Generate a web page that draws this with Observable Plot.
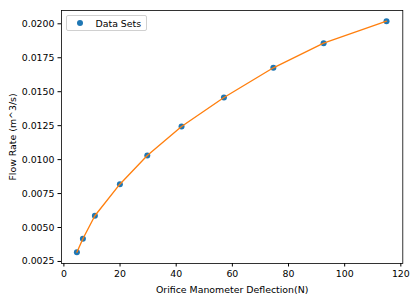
<!DOCTYPE html>
<html>
<head>
<meta charset="utf-8">
<script src="https://cdn.jsdelivr.net/npm/d3@7"></script>
<script src="https://cdn.jsdelivr.net/npm/@observablehq/plot@0.6"></script>
<style>
  html, body { margin: 0; padding: 0; background: #fff; }
  #wrap { position: relative; width: 415px; height: 300px; font-family: "DejaVu Sans", sans-serif; }
  #legend { position: absolute; left: 65.5px; top: 15px; width: 81px; height: 16px; box-sizing: border-box;
    border: 1px solid #d0d0d0; border-radius: 2px; background: rgba(255,255,255,0.8); font-size: 9.4px; }
  #legend .dot { position: absolute; left: 10px; top: 4px; width: 6px; height: 6px; border-radius: 50%; background: #1f77b4; }
  #legend .lab { position: absolute; left: 29px; top: 1.5px; color: #000; white-space: nowrap; }
</style>
</head>
<body>
<div id="wrap"></div>
<script>
const deflection = [4.63, 6.77, 11.04, 19.94, 29.7, 41.9, 57.0, 74.6, 92.5, 114.9];
const flowRate = [0.003185, 0.004171, 0.005865, 0.008191, 0.010304, 0.012439, 0.014574, 0.016761, 0.018572, 0.020191];
const xTicks = [0, 20, 40, 60, 80, 100, 120];
const yTicks = [0.0025, 0.0050, 0.0075, 0.0100, 0.0125, 0.0150, 0.0175, 0.0200];
const seriesName = "Data Sets";
const xLabel = "Orifice Manometer Deflection(N)";
const yLabel = "Flow Rate (m^3/s)";

const data = deflection.map((d, i) => ({x: d, y: flowRate[i]}));

const chart = Plot.plot({
  width: 415,
  height: 300,
  marginLeft: 61,
  marginRight: 12.7,
  marginTop: 10,
  marginBottom: 37,
  style: {fontFamily: "'DejaVu Sans', sans-serif", fontSize: "9.4px", color: "#000", background: "#fff"},
  x: {domain: [-0.85, 120.7], ticks: xTicks, tickFormat: d3.format("d"), tickSize: 3.5, tickPadding: 3.5,
      label: xLabel, labelAnchor: "center", labelArrow: "none", labelOffset: 29},
  y: {domain: [0.00235, 0.02098], ticks: yTicks, tickFormat: d3.format(".4f"), tickSize: 3.5, tickPadding: 3.5,
      label: yLabel, labelAnchor: "center", labelArrow: "none", labelOffset: 52},
  marks: [
    Plot.dot(data, {x: "x", y: "y", r: 3, fill: "#1f77b4", stroke: "none"}),
    Plot.line(data, {x: "x", y: "y", stroke: "#ff7f0e", strokeWidth: 1.35}),
    Plot.frame({stroke: "#000", strokeWidth: 0.8})
  ]
});
const wrap = document.getElementById("wrap");
wrap.appendChild(chart);
const legend = document.createElement("div");
legend.id = "legend";
legend.innerHTML = `<span class="dot"></span><span class="lab">${seriesName}</span>`;
wrap.appendChild(legend);
</script>
</body>
</html>
